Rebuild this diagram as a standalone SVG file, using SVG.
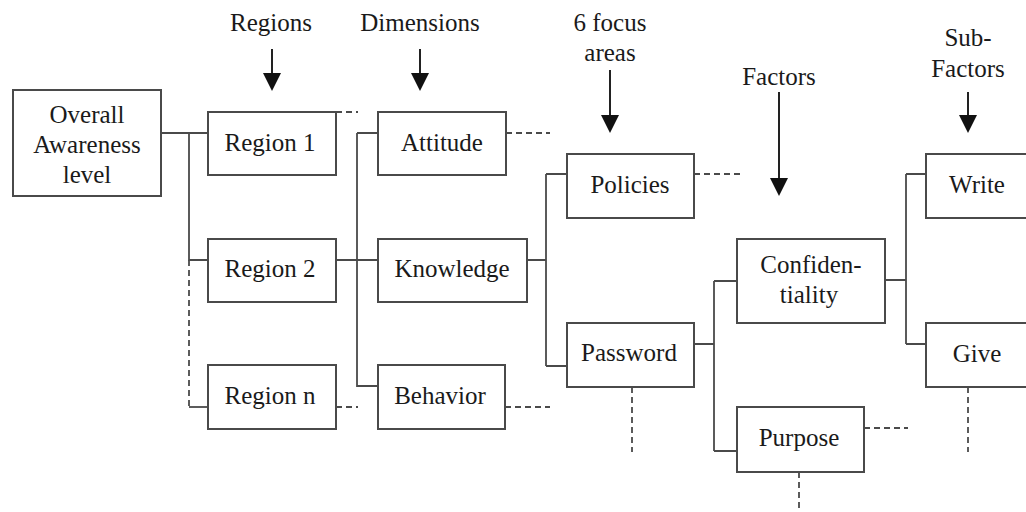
<svg xmlns="http://www.w3.org/2000/svg" width="1026" height="512" viewBox="0 0 1026 512">
<defs>
<marker id="ah" viewBox="0 0 10 10" refX="10" refY="5" markerWidth="10" markerHeight="10" markerUnits="userSpaceOnUse" orient="auto">
<path d="M0,0 L10,5 L0,10 z" fill="#111"/>
</marker>
<style>
.box{fill:#fff;stroke:#4a4a4a;stroke-width:2}
.t{font-family:"Liberation Serif","Times New Roman",serif;font-size:25px;fill:#1a1a1a;text-anchor:middle}
.ln{fill:none;stroke:#4a4a4a;stroke-width:1.8}
.ds{fill:none;stroke:#4a4a4a;stroke-width:1.8;stroke-dasharray:6 4}
.ar{fill:none;stroke:#222;stroke-width:2}
.hd{fill:#111}
</style>
</defs>
<rect width="1026" height="512" fill="#fff"/>

<g id="headers">
<text class="t" x="271" y="31">Regions</text>
<text class="t" x="420" y="31">Dimensions</text>
<text class="t" x="610" y="31">6 focus</text>
<text class="t" x="610" y="61">areas</text>
<text class="t" x="779" y="85">Factors</text>
<text class="t" x="968" y="46">Sub-</text>
<text class="t" x="968" y="77">Factors</text>
</g>

<g id="arrows">
<line class="ar" x1="272" y1="49" x2="272" y2="76"/><path class="hd" d="M263,73 L281,73 L272,91 z"/>
<line class="ar" x1="420" y1="49" x2="420" y2="76"/><path class="hd" d="M411,73 L429,73 L420,91 z"/>
<line class="ar" x1="610" y1="70" x2="610" y2="118"/><path class="hd" d="M601,115 L619,115 L610,133 z"/>
<line class="ar" x1="779" y1="92" x2="779" y2="181"/><path class="hd" d="M770,178 L788,178 L779,196 z"/>
<line class="ar" x1="968" y1="92" x2="968" y2="118"/><path class="hd" d="M959,115 L977,115 L968,133 z"/>
</g>

<g id="connectors">
<path class="ln" d="M161,133 H208 M189,133 V260 H208"/>
<path class="ds" d="M189,260 V407"/>
<path class="ln" d="M189,407 H208"/>
<path class="ds" d="M336,112 H358"/>
<path class="ds" d="M336,407 H358"/>
<path class="ln" d="M336,260 H378 M357,133 H378 M357,133 V386 H378"/>
<path class="ds" d="M506,133 H550"/>
<path class="ds" d="M505,407 H550"/>
<path class="ln" d="M527,260 H546 M546,174 V366 M546,174 H567 M546,366 H567"/>
<path class="ds" d="M694,174 H740"/>
<path class="ds" d="M632,387 V452"/>
<path class="ln" d="M694,344 H714 M714,281 V451 M714,281 H737 M714,451 H737"/>
<path class="ds" d="M864,428 H908"/>
<path class="ds" d="M799,472 V512"/>
<path class="ln" d="M885,280 H906 M906,174 V344 M906,174 H926 M906,344 H926"/>
<path class="ds" d="M968,387 V452"/>
</g>

<g id="overall"><rect class="box" x="13" y="90" width="148" height="106"/>
<text class="t" x="87" y="123">Overall</text><text class="t" x="87" y="153">Awareness</text><text class="t" x="87" y="183">level</text></g>
<g id="region1"><rect class="box" x="208" y="112" width="128" height="63"/><text class="t" x="270" y="151">Region 1</text></g>
<g id="region2"><rect class="box" x="208" y="239" width="128" height="63"/><text class="t" x="270" y="277">Region 2</text></g>
<g id="regionn"><rect class="box" x="208" y="365" width="128" height="64"/><text class="t" x="270" y="404">Region n</text></g>
<g id="attitude"><rect class="box" x="378" y="112" width="128" height="63"/><text class="t" x="442" y="151">Attitude</text></g>
<g id="knowledge"><rect class="box" x="378" y="239" width="149" height="63"/><text class="t" x="452" y="277">Knowledge</text></g>
<g id="behavior"><rect class="box" x="378" y="365" width="127" height="64"/><text class="t" x="440" y="404">Behavior</text></g>
<g id="policies"><rect class="box" x="567" y="154" width="127" height="64"/><text class="t" x="630" y="193">Policies</text></g>
<g id="password"><rect class="box" x="567" y="323" width="127" height="64"/><text class="t" x="629" y="361">Password</text></g>
<g id="confidentiality"><rect class="box" x="737" y="239" width="148" height="84"/>
<text class="t" x="811" y="273">Confiden-</text><text class="t" x="809" y="303">tiality</text></g>
<g id="purpose"><rect class="box" x="737" y="407" width="127" height="65"/><text class="t" x="799" y="446">Purpose</text></g>
<g id="write"><rect class="box" x="926" y="154" width="110" height="64"/><text class="t" x="977" y="193">Write</text></g>
<g id="give"><rect class="box" x="926" y="323" width="110" height="64"/><text class="t" x="977" y="362">Give</text></g>
</svg>
